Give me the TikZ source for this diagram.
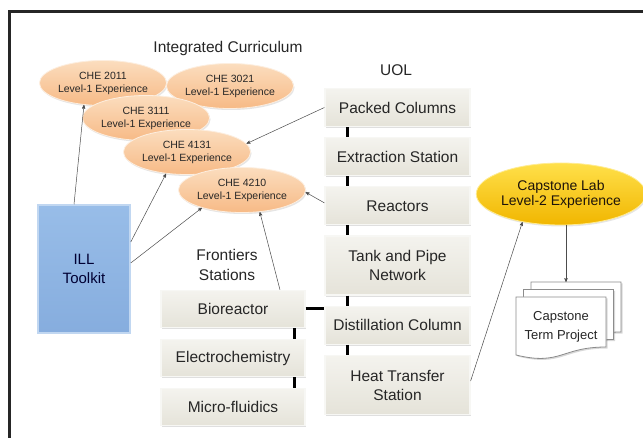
\documentclass[tikz,border=0pt]{standalone}
\usepackage{fontspec}
\setmainfont{Liberation Sans}
\usepackage{xcolor}
\usepackage{tikz}
\usetikzlibrary{positioning}
\usetikzlibrary{arrows,shapes,shadows}

\definecolor{peachtop}{HTML}{FBDDBE}
\definecolor{peachbot}{HTML}{F7BA86}
\definecolor{goldtop}{HTML}{FFE04A}
\definecolor{goldbot}{HTML}{F1B600}
\definecolor{illtop}{HTML}{98BDE8}
\definecolor{illbot}{HTML}{86ADDE}
\definecolor{boxtop}{HTML}{F4F3EE}
\definecolor{boxbot}{HTML}{E5E3D9}
\definecolor{ink}{HTML}{262626}

\tikzset{
  course/.style={ellipse, minimum width=120pt, minimum height=45pt, inner sep=0pt,
    top color=peachtop, bottom color=peachbot, draw=peachtop!50!white, line width=0.8pt,
    drop shadow={opacity=0.2,shadow xshift=1pt,shadow yshift=-1.5pt},
    align=center, text=ink, font=\fontsize{10.5}{13}\selectfont},
  capstone/.style={ellipse, minimum width=143pt, minimum height=62pt, inner sep=0pt,
    top color=goldtop, bottom color=goldbot, draw=goldtop!60!white, line width=0.8pt,
    drop shadow={opacity=0.2,shadow xshift=1pt,shadow yshift=-1.5pt},
    align=center, text=black!85!brown, font=\fontsize{14}{15}\selectfont},
  station/.style={rectangle, minimum width=145pt, minimum height=38pt, inner sep=2pt,
    top color=boxtop, bottom color=boxbot, draw=white!70!boxbot, line width=1.2pt,
    drop shadow={opacity=0.25,shadow xshift=1pt,shadow yshift=-1.5pt},
    align=center, text=ink, font=\fontsize{15.5}{19}\selectfont},
  twoline/.style={minimum height=59pt},
  toolkit/.style={rectangle, minimum width=92pt, minimum height=128pt,
    top color=illtop, bottom color=illbot, draw=illtop!60!white, line width=1.5pt,
    drop shadow={opacity=0.2,shadow xshift=1pt,shadow yshift=-1.5pt},
    align=center, text=black!80!blue, font=\fontsize{15}{19}\selectfont},
  heading/.style={align=center, text=ink, font=\fontsize{15.5}{20}\selectfont},
  pagesheet/.style={fill=white, draw=black!45, line width=0.8pt,
    drop shadow={opacity=0.3,shadow xshift=1.5pt,shadow yshift=-1.5pt}},
  bar/.style={line width=3pt, black},
  pointer/.style={->, >=stealth', draw=black!70, line width=0.5pt},
  frame/.style={line width=3pt, black!85}
}

\begin{document}
\begin{tikzpicture}[x=1pt,y=-1pt,node distance=10pt]
  \useasboundingbox[fill=white] (0,0) rectangle (643,438);
  \draw[frame] (643,11.5) -- (9.5,11.5) -- (9.5,438);

  % integrated curriculum
  \node[heading] (ic) at (228,48) {Integrated Curriculum};
  \node[course] (c2011) at (103,83)  {CHE 2011\\Level-1 Experience};
  \node[course] (c3021) at (230,86)  {CHE 3021\\Level-1 Experience};
  \node[course] (c3111) at (146,118) {CHE 3111\\Level-1 Experience};
  \node[course] (c4131) at (187,152) {CHE 4131\\Level-1 Experience};
  \node[course] (c4210) at (242,190) {CHE 4210\\Level-1 Experience};

  % UOL stations
  \node[heading] (uol) at (396,70) {UOL};
  \node[station] (pc) at (397.5,107.5) {Packed Columns};
  \node[station] (ex) [below=of pc] {Extraction Station};
  \node[station] (re) [below=of ex] {Reactors};
  \node[station,twoline] (tp) [below=of re] {Tank and Pipe\\Network};
  \node[station] (dc) [below=of tp] {Distillation Column};
  \node[station,twoline] (ht) [below=of dc] {Heat Transfer\\Station};
  \foreach \a/\b in {pc/ex,ex/re,re/tp,tp/dc,dc/ht}
    \draw[bar] ([xshift=23pt]\a.south west) -- ([xshift=23pt]\b.north west);

  % frontiers stations
  \node[heading] (fr) at (227,265) {Frontiers\\Stations};
  \node[station,minimum width=144pt,minimum height=37pt] (bio) at (233,309) {Bioreactor};
  \node[station,minimum width=144pt,minimum height=37pt] (ele) [below=11pt of bio] {Electrochemistry};
  \node[station,minimum width=144pt,minimum height=37pt] (mic) [below=11pt of ele] {Micro-fluidics};
  \foreach \a/\b in {bio/ele,ele/mic}
    \draw[bar] ([xshift=-11pt]\a.south east) -- ([xshift=-11pt]\b.north east);
  \draw[bar] (bio.east) -- (bio.east -| dc.west);

  % toolkit
  \node[toolkit] (ill) at (84,269) {ILL\\Toolkit};

  % capstone
  \node[capstone] (cap) at (561,194) {Capstone Lab\\Level-2 Experience};
  \coordinate (docref) at (516,297);
  \coordinate (stacktop) at (566,282);
  \foreach \d in {15,7.5,0}
    \draw[pagesheet] ([shift={(\d,-\d)}]docref) -- ++(90,0) -- ++(0,50)
      .. controls +(-45,0) and +(45,11) .. ++(-90,8) -- cycle;
  \node[align=center,text=ink,font=\fontsize{13}{19}\selectfont] (proj) at (561,327) {Capstone\\Term Project};

  % links
  \draw[pointer] ([xshift=-10pt]ill.north) -- (c2011.229);
  \draw[pointer] ([yshift=27pt]ill.east) -- (c4131.226);
  \draw[pointer] ([yshift=6pt]ill.east) -- (c4210.204);
  \draw[pointer] ([xshift=47pt]bio.north) -- (c4210.309);
  \draw[pointer] (pc.west) -- (c4131.8);
  \draw[pointer] ([yshift=3pt]re.west) -- (c4210.-2);
  \draw[pointer] ([yshift=4pt]ht.east) -- (cap.216);
  \draw[pointer] (cap.south -| stacktop) -- (stacktop);
\end{tikzpicture}
\end{document}
